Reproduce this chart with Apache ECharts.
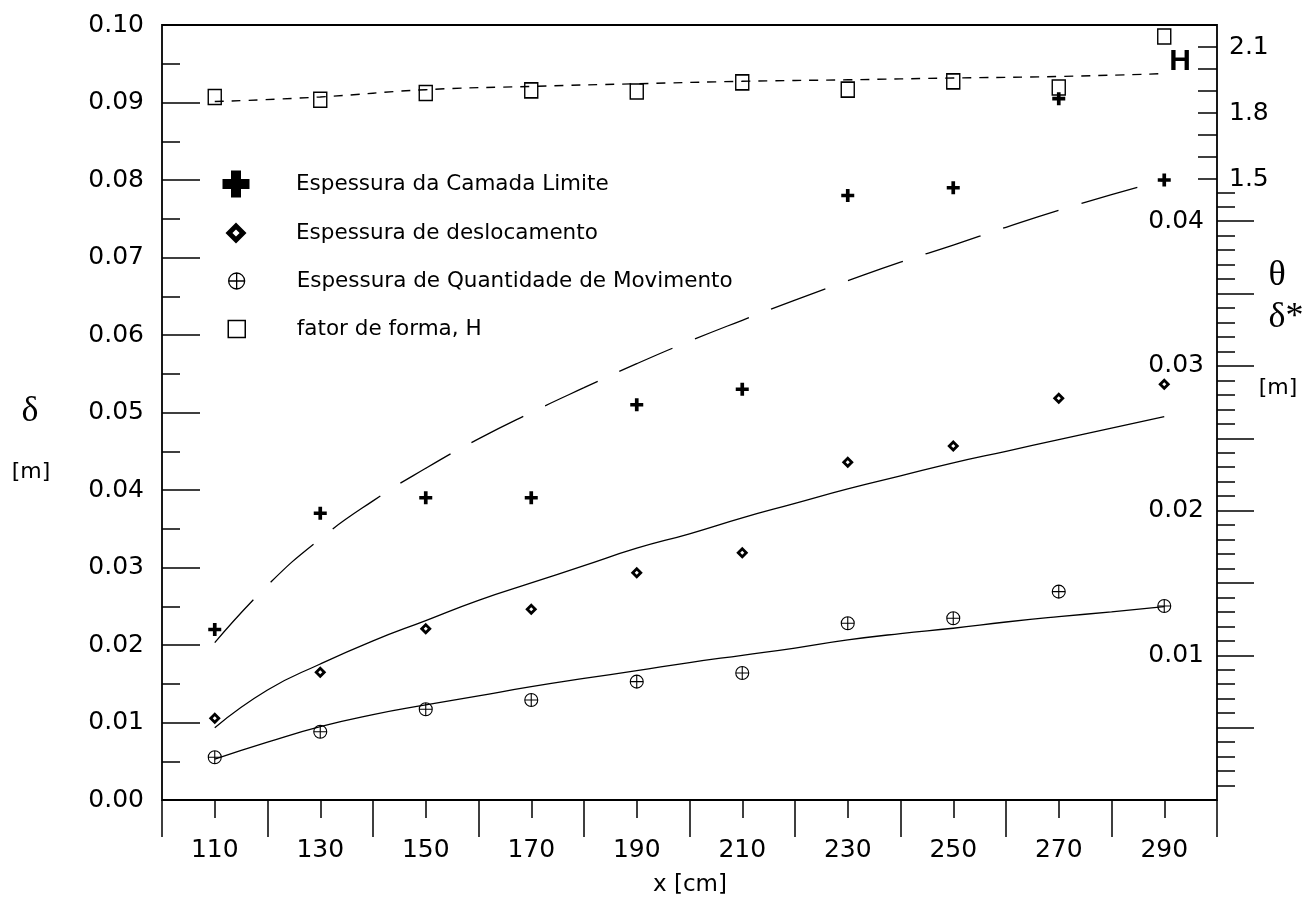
<!DOCTYPE html>
<html>
<head>
<meta charset="utf-8">
<script src="https://cdn.jsdelivr.net/npm/echarts@6/dist/echarts.min.js"></script>
<style>
html,body{margin:0;padding:0;background:#fff;}
#c{width:1308px;height:903px;}
</style>
</head>
<body>
<div id="c"></div>
<script>
// ---- data ----
const xCat = [110, 130, 150, 170, 190, 210, 230, 250, 270, 290];
const deltaVals = [0.0220, 0.0370, 0.0390, 0.0390, 0.0510, 0.0530, 0.0780, 0.0790, 0.0905, 0.0800];
const deltaStarVals = [0.00565, 0.00883, 0.01184, 0.01318, 0.01571, 0.01709, 0.02334, 0.02446, 0.02776, 0.02873];
const thetaVals = [0.00295, 0.00472, 0.00627, 0.00691, 0.00818, 0.00878, 0.01221, 0.01256, 0.01440, 0.01341];
const hVals = [1.873, 1.860, 1.891, 1.903, 1.898, 1.939, 1.906, 1.944, 1.916, 2.148];

const xFit = [110, 120, 130, 140, 150, 160, 170, 180, 190, 200, 210, 220, 230, 240, 250, 260, 270, 280, 290];
const deltaFit = [0.0203, 0.0277, 0.0337, 0.0386, 0.0428, 0.0466, 0.0500, 0.0532, 0.0563, 0.0592, 0.0619, 0.0645, 0.0670, 0.0694, 0.0716, 0.0739, 0.0761, 0.0781, 0.0800];
const deltaStarFit = [0.0050, 0.0076, 0.0094, 0.0110, 0.0124, 0.0138, 0.0150, 0.0162, 0.0174, 0.0184, 0.0195, 0.0205, 0.0215, 0.0224, 0.0233, 0.0241, 0.0249, 0.0257, 0.0265];
const thetaFit = [0.00283, 0.0040, 0.00507, 0.0059, 0.00657, 0.0072, 0.00783, 0.0084, 0.00894, 0.0095, 0.0100, 0.0105, 0.01106, 0.0115, 0.01187, 0.0123, 0.01267, 0.0130, 0.01336];
const hFitX = [110, 130, 150, 170, 190, 210, 230, 250, 270, 290];
const hFit = [1.852, 1.873, 1.906, 1.921, 1.933, 1.944, 1.951, 1.959, 1.966, 1.979];

const xTickLabels = [110, 130, 150, 170, 190, 210, 230, 250, 270, 290];
const thetaMajorTicks = [0.005, 0.010, 0.015, 0.020, 0.025, 0.030, 0.035, 0.040];
const thetaMinorTicks = [0.001, 0.002, 0.003, 0.004, 0.006, 0.007, 0.008, 0.009, 0.011, 0.012, 0.013, 0.014,
  0.016, 0.017, 0.018, 0.019, 0.021, 0.022, 0.023, 0.024, 0.026, 0.027, 0.028, 0.029, 0.031, 0.032, 0.033, 0.034,
  0.036, 0.037, 0.038, 0.039, 0.041, 0.042];
const thetaTickLabels = [0.01, 0.02, 0.03, 0.04];
const hTicks = [1.5, 1.6, 1.7, 1.8, 1.9, 2.0, 2.1];
const hTickLabels = [1.5, 1.8, 2.1];

const seriesNames = ['Espessura da Camada Limite', 'Espessura de deslocamento',
  'Espessura de Quantidade de Movimento', 'fator de forma, H'];

// ---- helpers ----
const zip = (xs, ys) => xs.map((x, i) => [x, ys[i]]);
const SANS = 'DejaVu Sans';
const SERIF = 'Liberation Serif';

const plusThin = 'path://M-1.7,-6 L1.7,-6 L1.7,-1.7 L6,-1.7 L6,1.7 L1.7,1.7 L1.7,6 L-1.7,6 L-1.7,1.7 L-6,1.7 L-6,-1.7 L-1.7,-1.7 Z';
const plusBold = 'path://M-5,-13.5 L5,-13.5 L5,-5 L13.5,-5 L13.5,5 L5,5 L5,13.5 L-5,13.5 L-5,5 L-13.5,5 L-13.5,-5 L-5,-5 Z';
const diamondHole = 'path://M0,-10 L10,0 L0,10 L-10,0 Z M0,-3.4 L-3.4,0 L0,3.4 L3.4,0 Z';
const crossCircle = 'path://M-10,0 A10,10 0 1,1 10,0 A10,10 0 1,1 -10,0 Z M-10,0 L10,0 M0,-10 L0,10';
const squarePath = 'path://M-10,-10 L10,-10 L10,10 L-10,10 Z';

// plot box in pixels
const G = {left: 162, top: 25, width: 1055, height: 775};
const H_MAX = 2.2, H_MIN = 2.2 - 775 / 220;     // H axis: 0.1 per 22 px
const TH_MAX = 775 / 14470;                       // θ/δ* axis: 0.01 per 144.7 px

const tickLine = {color: '#000', width: 1.5};
const lbl = {color: '#000', fontFamily: SANS, fontSize: 25};

const chart = echarts.init(document.getElementById('c'), null, {renderer: 'canvas'});

// legend: icon centred at x=236, text starting at x=296
// (the icon is centred in its box; the legend is positioned by the icon's own left edge)
function legendFor(name, icon, size, cy, itemStyle) {
  const boxW = 2 * (296 - 5 - 236);
  const lh = 28;
  return {
    show: true, orient: 'vertical', padding: 0,
    left: 236 - size / 2, top: cy - Math.max(lh, size) / 2,
    itemWidth: boxW, itemHeight: size, symbolKeepAspect: true,
    itemGap: 0, selectedMode: false,
    textStyle: {color: '#000', fontFamily: SANS, fontSize: 21.5, lineHeight: lh},
    data: [{name: name, icon: icon, itemStyle: Object.assign({opacity: 1}, itemStyle)}]
  };
}

const option = {
  animation: false,
  backgroundColor: '#fff',
  grid: {left: G.left, top: G.top, width: G.width, height: G.height, show: true,
    borderColor: '#000', borderWidth: 1.8, backgroundColor: 'transparent', containLabel: false},
  xAxis: [
    {type: 'value', min: 100, max: 300, interval: 10, position: 'bottom',
      axisLine: {show: false}, splitLine: {show: false},
      axisTick: {show: true, inside: false, length: 18, lineStyle: tickLine},
      axisLabel: {show: true, margin: 38, ...lbl,
        formatter: v => (xTickLabels.indexOf(Math.round(v)) >= 0 ? String(Math.round(v)) : '')}},
    {type: 'value', min: 100, max: 300, interval: 20, position: 'bottom',
      axisLine: {show: false}, splitLine: {show: false},
      axisTick: {show: true, inside: false, length: 37, lineStyle: tickLine},
      axisLabel: {show: false}}
  ],
  yAxis: [
    {type: 'value', min: 0, max: 0.1, interval: 0.01, position: 'left',
      axisLine: {show: false}, splitLine: {show: false},
      axisTick: {show: true, inside: true, length: 38, lineStyle: tickLine},
      minorTick: {show: true, splitNumber: 2, length: 18, lineStyle: tickLine},
      minorSplitLine: {show: false},
      axisLabel: {show: true, margin: 18, ...lbl, formatter: v => v.toFixed(2)}},
    {type: 'value', min: 0, max: TH_MAX, position: 'right',
      axisLine: {show: false}, splitLine: {show: false},
      axisTick: {show: true, inside: false, length: 37, lineStyle: tickLine, customValues: thetaMajorTicks},
      axisLabel: {show: true, inside: true, margin: 13, ...lbl, customValues: thetaTickLabels,
        formatter: v => v.toFixed(2)}},
    {type: 'value', min: 0, max: TH_MAX, position: 'right',
      axisLine: {show: false}, splitLine: {show: false},
      axisTick: {show: true, inside: false, length: 18, lineStyle: tickLine, customValues: thetaMinorTicks},
      axisLabel: {show: false}},
    {type: 'value', min: H_MIN, max: H_MAX, position: 'right',
      axisLine: {show: false}, splitLine: {show: false},
      axisTick: {show: true, inside: true, length: 19, lineStyle: tickLine, customValues: hTicks},
      axisLabel: {show: true, inside: false, margin: 12, ...lbl, customValues: hTickLabels,
        formatter: v => v.toFixed(1)}}
  ],
  legend: [
    legendFor(seriesNames[0], plusBold, 27, 184, {color: '#000', borderWidth: 0}),
    legendFor(seriesNames[1], diamondHole, 21, 233, {color: '#000', borderWidth: 0}),
    legendFor(seriesNames[2], crossCircle, 16, 281, {color: 'rgba(0,0,0,0)', borderColor: '#000', borderWidth: 1.3}),
    legendFor(seriesNames[3], squarePath, 17, 329, {color: 'rgba(0,0,0,0)', borderColor: '#000', borderWidth: 1.5})
  ],
  series: [
    {name: seriesNames[0], type: 'scatter', xAxisIndex: 0, yAxisIndex: 0,
      data: zip(xCat, deltaVals), symbol: plusThin, symbolSize: 13,
      itemStyle: {color: '#000', opacity: 1}, z: 5},
    {type: 'line', xAxisIndex: 0, yAxisIndex: 0, data: zip(xFit, deltaFit),
      showSymbol: false, smooth: true, silent: true,
      lineStyle: {color: '#000', width: 1.3, type: [58, 24]}},
    {name: seriesNames[1], type: 'scatter', xAxisIndex: 0, yAxisIndex: 1,
      data: zip(xCat, deltaStarVals), symbol: diamondHole, symbolSize: [12, 12],
      itemStyle: {color: '#000', opacity: 1}, z: 5},
    {type: 'line', xAxisIndex: 0, yAxisIndex: 1, data: zip(xFit, deltaStarFit),
      showSymbol: false, smooth: true, silent: true,
      lineStyle: {color: '#000', width: 1.3}},
    {name: seriesNames[2], type: 'scatter', xAxisIndex: 0, yAxisIndex: 1,
      data: zip(xCat, thetaVals), symbol: crossCircle, symbolSize: 13,
      itemStyle: {color: 'rgba(0,0,0,0)', borderColor: '#000', borderWidth: 1.1, opacity: 1}, z: 5},
    {type: 'line', xAxisIndex: 0, yAxisIndex: 1, data: zip(xFit, thetaFit),
      showSymbol: false, smooth: true, silent: true,
      lineStyle: {color: '#000', width: 1.3}},
    {name: seriesNames[3], type: 'scatter', xAxisIndex: 0, yAxisIndex: 3,
      data: zip(xCat, hVals), symbol: squarePath, symbolSize: [13, 15],
      itemStyle: {color: 'rgba(0,0,0,0)', borderColor: '#000', borderWidth: 1.5, opacity: 1}, z: 5},
    {type: 'line', xAxisIndex: 0, yAxisIndex: 3, data: zip(hFitX, hFit),
      showSymbol: false, smooth: true, silent: true,
      lineStyle: {color: '#000', width: 1.4, type: [9, 8]}}
  ],
  graphic: [
    {type: 'text', x: 30, y: 412, style: {text: 'δ', font: '36px "' + SERIF + '"', fill: '#000', align: 'center', verticalAlign: 'middle'}},
    {type: 'text', x: 31, y: 472, style: {text: '[m]', font: '22px "' + SANS + '"', fill: '#000', align: 'center', verticalAlign: 'middle'}},
    {type: 'text', x: 1277, y: 276, style: {text: 'θ', font: '36px "' + SERIF + '"', fill: '#000', align: 'center', verticalAlign: 'middle'}},
    {type: 'text', x: 1286, y: 318, style: {text: 'δ*', font: '36px "' + SERIF + '"', fill: '#000', align: 'center', verticalAlign: 'middle'}},
    {type: 'text', x: 1278, y: 388, style: {text: '[m]', font: '22px "' + SANS + '"', fill: '#000', align: 'center', verticalAlign: 'middle'}},
    {type: 'text', x: 690, y: 885, style: {text: 'x [cm]', font: '23px "' + SANS + '"', fill: '#000', align: 'center', verticalAlign: 'middle'}},
    {type: 'text', x: 1180, y: 62, style: {text: 'H', font: 'bold 30px "Liberation Sans"', fill: '#000', align: 'center', verticalAlign: 'middle'}}
  ]
};
chart.setOption(option);
</script>
</body>
</html>
